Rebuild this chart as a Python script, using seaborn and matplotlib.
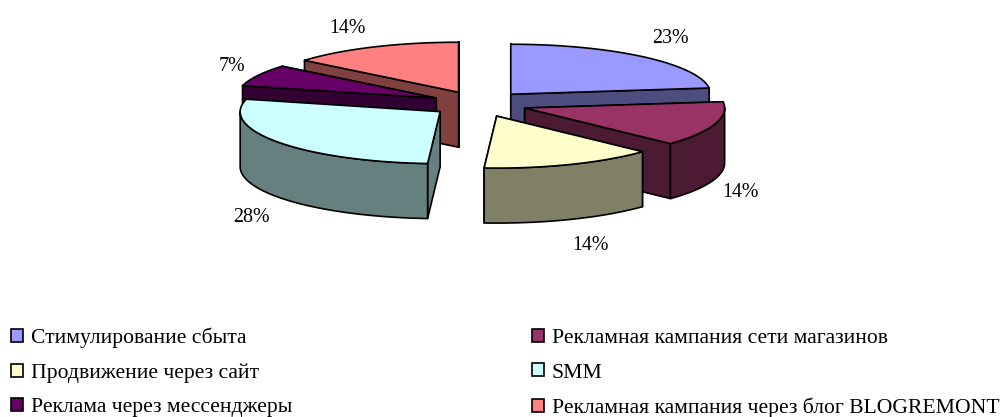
import numpy as np
import matplotlib
matplotlib.use("Agg")
import matplotlib.pyplot as plt
from matplotlib.patches import Patch
import seaborn as sns

# Marketing budget shares, percent
categories = [
    "Стимулирование сбыта",
    "Рекламная кампания сети магазинов",
    "Продвижение через сайт",
    "SMM",
    "Реклама через мессенджеры",
    "Рекламная кампания через блог BLOGREMONT",
]
shares = [23, 14, 14, 28, 7, 14]
top_colors = ["#9999FF", "#993366", "#FFFFCC", "#CCFFFF", "#660066", "#FF8080"]

# Label offsets from the middle of each slice's outer arc
label_offsets = [(27, -18), (26, 68), (20, 81), (-27, 75), (-26, -9), (-26, -18)]
# Back slices first so the nearer ones overlap them
draw_order = [5, 4, 3, 0, 1, 2]

CX, CY = 479, 104
RX, RY_BACK, RY_FRONT = 200, 50, 52
DEPTH = 55
EXPLODE_X, EXPLODE_Y = 48, 13
EDGE = dict(edgecolor="black", linewidth=1.2, joinstyle="round")

sns.set_theme(style="white")
plt.rcParams["font.family"] = ["Liberation Serif", "DejaVu Serif"]
side_colors = [tuple(c * 0.5 for c in sns.color_palette([t])[0]) for t in top_colors]

fig = plt.figure(figsize=(10, 4.17), dpi=100)
ax = fig.add_axes([0, 0, 1, 1])
ax.set_xlim(0, 1000)
ax.set_ylim(417, 0)
ax.axis("off")


def rim(apex, t):
    """Point on a slice's elliptical rim; t is clockwise from 12 o'clock, radians."""
    c = np.cos(t)
    ry = np.where(c < 0, RY_FRONT, RY_BACK)
    return apex[0] + RX * np.sin(t), apex[1] - ry * c


edges = np.radians(np.concatenate([[0], np.cumsum(shares)]) / np.sum(shares) * 360)
z = 1
for i in draw_order:
    t0, t1 = edges[i], edges[i + 1]
    mid = (t0 + t1) / 2
    apex = (CX + EXPLODE_X * np.sin(mid), CY - EXPLODE_Y * np.cos(mid))

    # Radial cut faces, the one further back first
    for t in sorted((t0, t1), key=lambda a: rim(apex, a)[1]):
        ex, ey = rim(apex, t)
        ax.fill([apex[0], ex, ex, apex[0]],
                [apex[1], ey, ey + DEPTH, apex[1] + DEPTH],
                facecolor=side_colors[i], zorder=z, **EDGE)
        z += 1

    # Outer wall, only where it faces the viewer
    lo, hi = max(t0, np.pi / 2), min(t1, 3 * np.pi / 2)
    if hi > lo:
        wx, wy = rim(apex, np.linspace(lo, hi, 80))
        ax.fill(np.r_[wx, wx[::-1]], np.r_[wy, wy[::-1] + DEPTH],
                facecolor=side_colors[i], zorder=z, **EDGE)
        z += 1

    # Top surface
    tx, ty = rim(apex, np.linspace(t0, t1, 120))
    ax.fill(np.r_[apex[0], tx], np.r_[apex[1], ty],
            facecolor=top_colors[i], zorder=z, **EDGE)
    z += 1

    mx, my = rim(apex, mid)
    dx, dy = label_offsets[i]
    ax.text(mx + dx, my + dy, f"{shares[i]}%", ha="center", va="center",
            fontsize=14.4, color="black", zorder=100)

# Legend reads row by row, so reorder for matplotlib's column filling
handles = [Patch(facecolor=top_colors[i], edgecolor="black", linewidth=1.2, label=categories[i])
           for i in [0, 2, 4, 1, 3, 5]]
ax.legend(handles=handles, ncol=2, loc="lower left", bbox_to_anchor=(0.011, -0.003),
          frameon=False, fontsize=15.6, handlelength=0.55, handleheight=0.55,
          handletextpad=0.37, labelspacing=0.70, columnspacing=11.05, borderpad=0,
          borderaxespad=0, labelcolor="black")

fig.savefig("out.png", dpi=100)
